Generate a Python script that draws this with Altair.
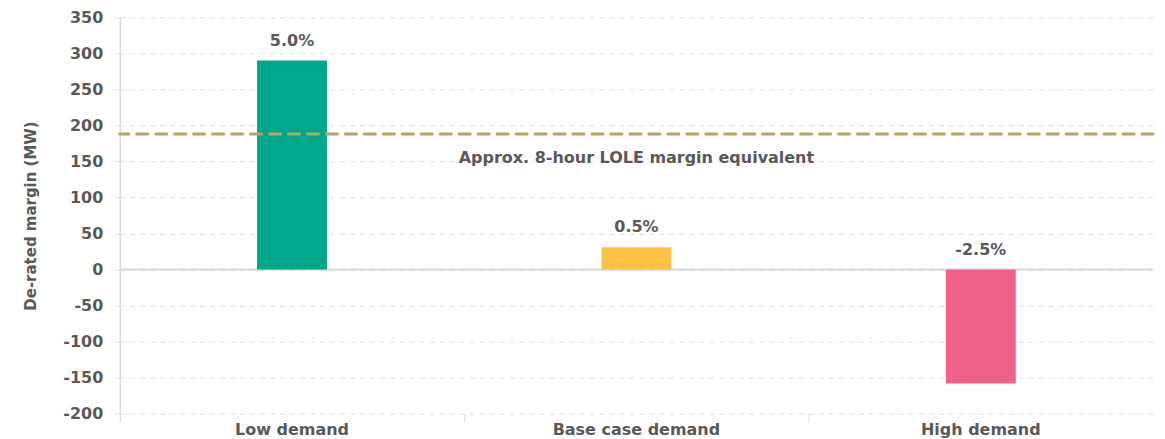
import altair as alt
import pandas as pd

categories = ["Low demand", "Base case demand", "High demand"]
margins_mw = [290, 31, -158]
pct_labels = ["5.0%", "0.5%", "-2.5%"]
bar_colors = ["#00A88B", "#FFC145", "#EF6188"]
lole_value = [188]
lole_label = ["Approx. 8-hour LOLE margin equivalent"]
y_ticks = [-200, -150, -100, -50, 0, 50, 100, 150, 200, 250, 300, 350]

FONT = "DejaVu Sans"
TXT = "#595959"
FS = 16

df = pd.DataFrame({"cat": categories, "value": margins_mw, "pct": pct_labels, "color": bar_colors})
ref = pd.DataFrame({"value": lole_value, "label": lole_label, "cat": ["Base case demand"]})

xaxis = alt.Axis(labelAngle=0, domain=False, ticks=True, bandPosition=0,
                 tickSize=8, tickColor="#d9d9d9", labelPadding=0, labelBaseline="top",
                 labelFont=FONT, labelFontSize=FS, labelFontWeight="bold",
                 labelColor=TXT, grid=False)
yaxis = alt.Axis(values=y_ticks, labelOverlap=False, tickCount=12,
                 labelExpr="replace(datum.label, '\u2212', '-')",
                 grid=True, gridDash=[5, 5],
                 gridColor="#e0e0e0", gridWidth=1, domain=True, domainColor="#d9d9d9",
                 domainWidth=1.5, ticks=True, tickSize=7, tickColor="#e0e0e0",
                 tickDash=[5, 5], labelPadding=10,
                 labelFont=FONT, labelFontSize=FS, labelFontWeight="bold", labelColor=TXT,
                 titleFont=FONT, titleFontSize=15, titleFontWeight="bold", titleColor=TXT,
                 titlePadding=24)
YT = "De-rated margin (MW)"
yscale = alt.Scale(domain=[-200, 350], nice=False, zero=False)
xscale = alt.Scale(paddingInner=0, paddingOuter=0)

zero = alt.Chart(pd.DataFrame({"value": [0]})).mark_rule(color="#d9d9d9", strokeWidth=2).encode(
    y=alt.Y("value:Q", scale=yscale, axis=yaxis, title=YT))

bars = alt.Chart(df).mark_bar(size=70).encode(
    x=alt.X("cat:N", sort=categories, title=None, scale=xscale, axis=xaxis),
    y=alt.Y("value:Q", scale=yscale, title=YT, axis=yaxis),
    color=alt.Color("color:N", scale=None),
)

labels = alt.Chart(df).transform_calculate(lab_y="max(datum.value, 0)").mark_text(
    font=FONT, fontSize=FS, fontWeight="bold", color=TXT, dy=-20, baseline="middle"
).encode(x=alt.X("cat:N", sort=categories, scale=xscale, axis=xaxis, title=None),
         y=alt.Y("lab_y:Q", scale=yscale, axis=yaxis, title=YT),
         text="pct:N")

rule = alt.Chart(ref).mark_rule(color="#B3A46B", strokeWidth=3, strokeDash=[11, 8], strokeCap="round").encode(
    y=alt.Y("value:Q", scale=yscale, axis=yaxis, title=YT))

note = alt.Chart(ref).mark_text(font=FONT, fontSize=FS, fontWeight="bold", color=TXT, dy=24,
                                 baseline="middle").encode(
    x=alt.X("cat:N", sort=categories, scale=xscale, axis=xaxis, title=None),
    y=alt.Y("value:Q", scale=yscale, axis=yaxis, title=YT),
    text="label:N")

chart = alt.layer(zero, bars, rule, labels, note).properties(
    width=1035, height=397, padding={"left": 15, "top": 1, "right": 2, "bottom": 0}
).configure_view(stroke=None)

chart.save("out.html", embed_options={"renderer": "svg", "actions": False})
